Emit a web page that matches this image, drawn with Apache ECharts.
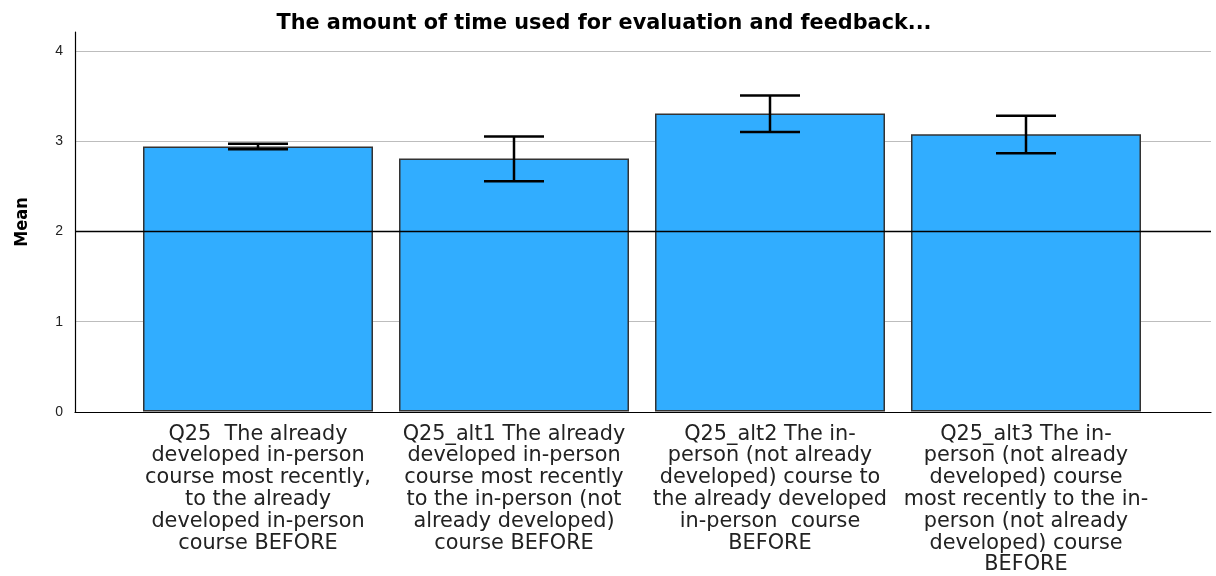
<!DOCTYPE html>
<html>
<head>
<meta charset="utf-8">
<script src="https://cdn.jsdelivr.net/npm/echarts@6/dist/echarts.min.js"></script>
<style>
html,body{margin:0;padding:0;background:#fff;}
#main{width:1216px;height:576px;}
</style>
</head>
<body>
<div id="main"></div>
<script>
// categories + means + 95% CI ends
var categories = [
	"Q25  The already\ndeveloped in-person\ncourse most recently,\nto the already\ndeveloped in-person\ncourse BEFORE",
	"Q25_alt1 The already\ndeveloped in-person\ncourse most recently\nto the in-person (not\nalready developed)\ncourse BEFORE",
	"Q25_alt2 The in-\nperson (not already\ndeveloped) course to\nthe already developed\nin-person  course\nBEFORE",
	"Q25_alt3 The in-\nperson (not already\ndeveloped) course\nmost recently to the in-\nperson (not already\ndeveloped) course\nBEFORE"
];
var means = [2.94, 2.805, 3.305, 3.075];
var lower = [2.91, 2.555, 3.10, 2.865];
var upper = [2.97, 3.05, 3.505, 3.28];
var refValue = 2;
var yMax = 4.21;

var myChart = echarts.init(document.getElementById('main'));

var errData = [];
for (var i = 0; i < categories.length; i++) {
	errData.push([i, lower[i], upper[i]]);
}

var option = {
	backgroundColor: '#fff',
	animation: false,
	title: {
		text: 'The amount of time used for evaluation and feedback...',
		left: 599, textAlign: 'center',
		top: 8,
		textStyle: { fontFamily: 'DejaVu Sans', fontWeight: 'bold', fontSize: 20.8, color: '#000' }
	},
	grid: [
		{ left: 75, right: 5, top: 32, bottom: 164 },
		{ left: 130, right: 62, top: 32, bottom: 164 }
	],
	xAxis: [
		{
			gridIndex: 0, type: 'value', min: 0, max: 1,
			axisLine: { show: true, onZero: false, lineStyle: { color: '#000', width: 1.2 } },
			axisTick: { show: false }, axisLabel: { show: false }, splitLine: { show: false }
		},
		{
			gridIndex: 1, type: 'category', data: categories,
			axisLine: { show: false }, axisTick: { show: false },
			axisLabel: {
				interval: 0, margin: 12, color: '#222',
				fontFamily: 'DejaVu Sans', fontSize: 20.8, lineHeight: 21.8, align: 'center'
			}
		}
	],
	yAxis: [
		{
			gridIndex: 0, type: 'value', min: 0, max: yMax, interval: 1,
			name: 'Mean', nameLocation: 'middle', nameGap: 44, nameRotate: 90,
			nameTextStyle: { fontFamily: "'DejaVu Sans Condensed', 'DejaVu Sans'", fontWeight: 'bold', fontSize: 18, color: '#000' },
			axisLine: { show: true, lineStyle: { color: '#000', width: 1.2 } },
			axisTick: { show: false },
			axisLabel: {
				margin: 12, color: '#222', fontFamily: 'Liberation Sans', fontSize: 14,
				formatter: function (v) { return v % 1 === 0 ? String(v) : ''; }
			},
			splitLine: { show: true, showMaxLine: false, lineStyle: { color: '#bdbdbd', width: 1.2 } }
		},
		{
			gridIndex: 1, type: 'value', min: 0, max: yMax, interval: 1, show: false
		}
	],
	series: [
		{
			type: 'bar',
			xAxisIndex: 1, yAxisIndex: 1,
			data: means,
			barWidth: 230,
			itemStyle: { color: '#31adff', borderColor: '#333', borderWidth: 1.5 },
			z: 2
		},
		{
			type: 'line',
			xAxisIndex: 0, yAxisIndex: 0,
			data: [],
			z: 5,
			markLine: {
				silent: true, symbol: 'none',
				label: { show: false },
				lineStyle: { color: '#000', width: 1.3, type: 'solid' },
				data: [{ yAxis: refValue }]
			}
		},
		{
			type: 'custom',
			xAxisIndex: 1, yAxisIndex: 1,
			data: errData,
			z: 6,
			renderItem: function (params, api) {
				var lo = api.coord([api.value(0), api.value(1)]);
				var hi = api.coord([api.value(0), api.value(2)]);
				var half = 30;
				var st = { stroke: '#000', lineWidth: 2.5 };
				return {
					type: 'group',
					children: [
						{ type: 'line', shape: { x1: hi[0], y1: hi[1], x2: lo[0], y2: lo[1] }, style: st },
						{ type: 'line', shape: { x1: hi[0] - half, y1: hi[1], x2: hi[0] + half, y2: hi[1] }, style: st },
						{ type: 'line', shape: { x1: lo[0] - half, y1: lo[1], x2: lo[0] + half, y2: lo[1] }, style: st }
					]
				};
			}
		}
	]
};
myChart.setOption(option);
</script>
</body>
</html>
